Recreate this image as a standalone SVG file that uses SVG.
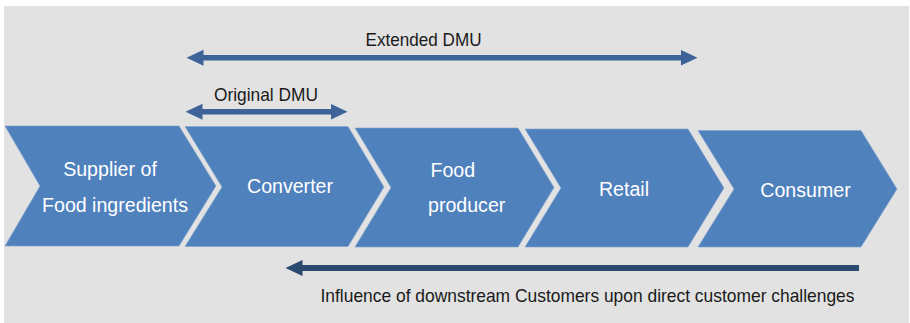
<svg xmlns="http://www.w3.org/2000/svg" width="910" height="323" viewBox="0 0 910 323">
  <style>
    .bg { fill: #e2e2e2; }
    .chev { fill: #4f81bd; stroke: #7fa2cf; stroke-width: 0.6; }
    .lbl { font-family: "Liberation Sans", Arial, sans-serif; font-size: 19.6px; fill: #ffffff; }
    .cap { font-family: "Liberation Sans", Arial, sans-serif; font-size: 19px; fill: #1a1a1a; }
    .dmu { stroke: #3d6398; stroke-width: 5.5; fill: none; }
    .infl { stroke: #2b4a6f; stroke-width: 6; fill: none; }
  </style>
  <defs>
    <marker id="headBlue" markerUnits="userSpaceOnUse" markerWidth="18" markerHeight="17" refX="0.5" refY="8" orient="auto-start-reverse">
      <path d="M0,0 L17,8 L0,16 z" fill="#3d6398"/>
    </marker>
    <marker id="headDark" markerUnits="userSpaceOnUse" markerWidth="18" markerHeight="17" refX="0.5" refY="8" orient="auto-start-reverse">
      <path d="M0,0 L17,8 L0,16 z" fill="#2b4a6f"/>
    </marker>
  </defs>

  <rect class="bg" x="4" y="6" width="905" height="317"/>

  <g id="supplier">
    <polygon class="chev" points="5,126 179,126 216,186 179,246 5,246 40,186"/>
    <text class="lbl" x="110" y="175.7" text-anchor="middle">Supplier of</text>
    <text class="lbl" x="115" y="211.7" text-anchor="middle">Food ingredients</text>
  </g>
  <g id="converter">
    <polygon class="chev" points="185,126.5 348,126.5 384,187 348,246.5 185,246.5 222,187"/>
    <text class="lbl" x="290" y="193.3" text-anchor="middle">Converter</text>
  </g>
  <g id="food-producer">
    <polygon class="chev" points="355,128 518,128 554,187.5 518,247 355,247 391,187.5"/>
    <text class="lbl" x="430.5" y="176.7">Food</text>
    <text class="lbl" x="428" y="211.7">producer</text>
  </g>
  <g id="retail">
    <polygon class="chev" points="525,129 688,129 724,188 688,247 525,247 561,188"/>
    <text class="lbl" x="624" y="196" text-anchor="middle">Retail</text>
  </g>
  <g id="consumer">
    <polygon class="chev" points="698,130.5 861,130.5 897,189 861,247 698,247 734,189"/>
    <text class="lbl" x="805.5" y="197" text-anchor="middle">Consumer</text>
  </g>

  <g id="connectors">
    <line class="dmu" x1="203" y1="57.7" x2="681" y2="57.7" marker-start="url(#headBlue)" marker-end="url(#headBlue)"/>
    <line class="dmu" x1="202" y1="111.7" x2="331" y2="111.7" marker-start="url(#headBlue)" marker-end="url(#headBlue)"/>
    <line class="infl" x1="859" y1="268" x2="302" y2="268" marker-end="url(#headDark)"/>
  </g>

  <g id="labels">
    <text class="cap" x="365.5" y="45.5" textLength="116" lengthAdjust="spacingAndGlyphs">Extended DMU</text>
    <text class="cap" x="214" y="101" textLength="104" lengthAdjust="spacingAndGlyphs">Original DMU</text>
    <text class="cap" x="320.5" y="302.3" textLength="534" lengthAdjust="spacingAndGlyphs">Influence of downstream Customers upon direct customer challenges</text>
  </g>
</svg>
